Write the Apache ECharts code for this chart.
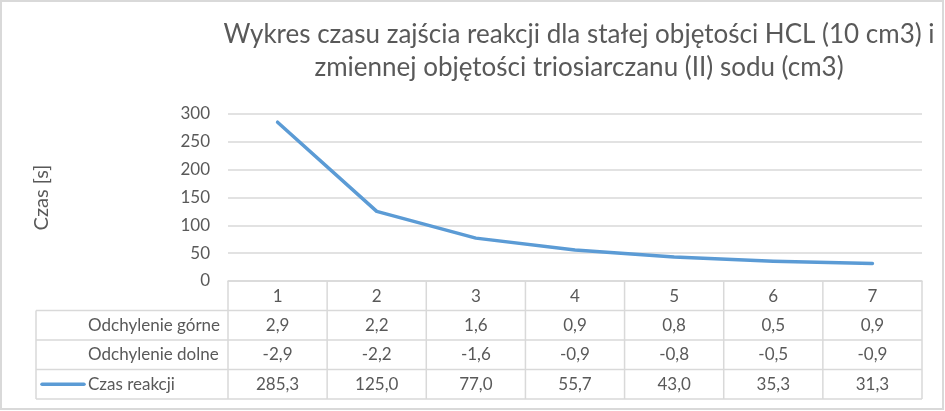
<!DOCTYPE html>
<html>
<head>
<meta charset="utf-8">
<script src="https://cdn.jsdelivr.net/npm/echarts@6/dist/echarts.min.js"></script>
<style>
  html, body { margin: 0; padding: 0; background: #fff; }
  #chart { width: 945px; height: 411px; }
</style>
</head>
<body>
<div id="chart"></div>
<script>
// dane z wykresu
var categories = ['1', '2', '3', '4', '5', '6', '7']
var odchylenieGorne = [2.9, 2.2, 1.6, 0.9, 0.8, 0.5, 0.9]
var odchylenieDolne = [-2.9, -2.2, -1.6, -0.9, -0.8, -0.5, -0.9]
var czasReakcji = [285.3, 125.0, 77.0, 55.7, 43.0, 35.3, 31.3]
var yTicks = [0, 50, 100, 150, 200, 250, 300]

var FONT = 'Lato, "Open Sans", sans-serif'
var TXT = '#595959'
var LINE = '#d9d9d9'
var BLUE = '#5b9bd5'
var FS = 17

// uklad (jak w Excelu)
var gridLeft = 228, gridRight = 922, gridTop = 114, gridBottom = 281
var tableLeft = 36, rowH = 29.5, labelX = 88

function fmt(v) {
  return v.toFixed(1).replace('.', ',')
}

var chart = echarts.init(document.getElementById('chart'))

chart.setOption({
  animation: false,
  backgroundColor: '#fff',
  title: {
    text: 'Wykres czasu zajścia reakcji dla stałej objętości HCL (10 cm3) i\nzmiennej objętości triosiarczanu (II) sodu (cm3)',
    left: 574,
    top: 13,
    textAlign: 'center',
    textStyle: {
      fontFamily: FONT,
      fontSize: 26,
      fontWeight: 'normal',
      color: TXT,
      lineHeight: 33
    }
  },
  grid: {
    left: gridLeft,
    right: 945 - gridRight,
    top: gridTop,
    bottom: 411 - gridBottom
  },
  xAxis: {
    type: 'category',
    data: categories,
    boundaryGap: true,
    axisLine: { show: true, lineStyle: { color: LINE, width: 1.5 } },
    axisTick: { show: false },
    axisLabel: {
      color: TXT,
      fontFamily: FONT,
      fontSize: FS,
      margin: 7
    }
  },
  yAxis: {
    type: 'value',
    min: 0,
    max: 300,
    interval: 50,
    name: 'Czas [s]',
    nameLocation: 'middle',
    nameGap: 176,
    nameTextStyle: { color: TXT, fontFamily: FONT, fontSize: 20 },
    axisLine: { show: false },
    axisTick: { show: false },
    axisLabel: {
      color: TXT,
      fontFamily: FONT,
      fontSize: FS,
      margin: 18,
      formatter: function (v) { return yTicks.indexOf(v) >= 0 ? String(v) : '' }
    },
    splitLine: { lineStyle: { color: LINE, width: 1.5 } }
  },
  series: [{
    name: 'Czas reakcji',
    type: 'line',
    data: czasReakcji,
    smooth: false,
    symbol: 'none',
    lineStyle: { color: BLUE, width: 3.5, cap: 'round', join: 'round' }
  }]
})

// tabela danych pod wykresem
function drawTable() {
  var els = []
  var n = categories.length
  var colW = (gridRight - gridLeft) / n
  var rows = [
    { label: 'Odchylenie górne', values: odchylenieGorne },
    { label: 'Odchylenie dolne', values: odchylenieDolne },
    { label: 'Czas reakcji', values: czasReakcji, key: true }
  ]
  var top0 = gridBottom + rowH
  var bottom = top0 + rowH * rows.length
  var ls = { stroke: LINE, lineWidth: 1.5 }

  // pionowe linie
  for (var i = 0; i <= n; i++) {
    var x = gridLeft + colW * i
    els.push({ type: 'line', shape: { x1: x, y1: gridBottom, x2: x, y2: bottom }, style: ls, silent: true })
  }
  els.push({ type: 'line', shape: { x1: tableLeft, y1: top0, x2: tableLeft, y2: bottom }, style: ls, silent: true })

  // poziome linie
  for (var r = 0; r <= rows.length; r++) {
    var y = top0 + rowH * r
    els.push({ type: 'line', shape: { x1: tableLeft, y1: y, x2: gridRight, y2: y }, style: ls, silent: true })
  }

  rows.forEach(function (row, ri) {
    var cy = top0 + rowH * ri + rowH / 2
    els.push({
      type: 'text',
      style: { text: row.label, x: labelX, y: cy, align: 'left', verticalAlign: 'middle', fill: TXT, font: FS + 'px ' + FONT },
      silent: true
    })
    row.values.forEach(function (v, ci) {
      var cx = chart.convertToPixel({ xAxisIndex: 0 }, ci)
      els.push({
        type: 'text',
        style: { text: fmt(v), x: cx, y: cy, align: 'center', verticalAlign: 'middle', fill: TXT, font: FS + 'px ' + FONT },
        silent: true
      })
    })
    if (row.key) {
      els.push({
        type: 'line',
        shape: { x1: 42, y1: cy, x2: 84, y2: cy },
        style: { stroke: BLUE, lineWidth: 3.5, lineCap: 'round' },
        silent: true
      })
    }
  })

  // ramka wykresu
  els.push({
    type: 'rect',
    shape: { x: 1, y: 1, width: 942, height: 408 },
    style: { fill: null, stroke: LINE, lineWidth: 2 },
    silent: true
  })

  chart.setOption({ graphic: els })
}

drawTable()
</script>
</body>
</html>
